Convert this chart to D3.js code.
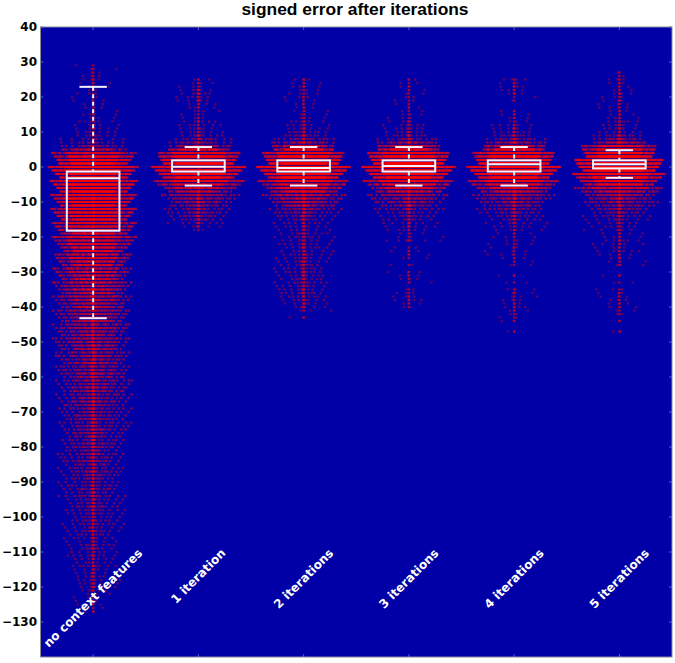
<!DOCTYPE html>
<html><head><meta charset="utf-8">
<script src="https://cdn.jsdelivr.net/npm/d3@7"></script>
<style>html,body{margin:0;background:#fff}svg{display:block}</style></head>
<body><div id="c"></div>
<script>
const categories = ["no context features","1 iteration","2 iterations","3 iterations","4 iterations","5 iterations"];
const yTicks = d3.range(40,-131,-10);
const titleText = "signed error after iterations";

// first (highest) integer error level of each series
const topLevels = [29,25,25,25,25,27];

// dots seen per integer error level, top to bottom
const counts0 = [1,2,2,3,4,3,3,2,3,3,3,3,3,2,4,4,5,5,6,6,7,8,10,14,24,
 34,42,48,52,54,56,54,50,50,50,48,46,44,46,44,42,42,40,40,38,38,36,36,
 32,34,30,32,30,30,28,30,28,28,26,28,26,26,26,24,26,24,24,24,22,24,22,22,22,
 22,20,22,20,20,22,20,20,20,18,20,18,20,18,18,20,18,18,16,18,18,16,16,18,16,16,14,16,16,14,14,16,14,14,12,14,14,
 12,14,12,14,12,12,14,12,12,10,12,12,10,12,10,10,12,10,10,8,10,10,8,10,8,8,6,8,8,6,8,7,6,8,6,6,7,5,6,6,5,4,3,3,3,2,2];
const counts1 = [3,4,3,5,6,5,5,4,4,3,3,4,5,6,6,7, 9,11,14,20,
 30,42,50,56,60,62,60,56,50,42,34, 28,24,22,20,18,16,14,14,12,10,8,5,2];
const counts2 = [3,3,4,3,4,4,3,3,3,3,3,4,5,6,7,8, 10,13,18,26,
 36,46,54,60,64,66,62,58,52,44,36, 34,30,26,24,22,20,16,14,12,10,8,8,7,
 8,8,7,8,8,7,8,8,9,8,8,9,8,8,9,8,8,9,8,7,6,5,3,0,2];
const counts3 = [2,2,2,2,2,2,2,2,2,2,3,3,4,5,6,7, 9,12,18,26,
 36,46,54,60,64,66,62,58,52,44,36, 30,26,22,20,18,16,14,10,9,8,7,6,5,
 3,3,6,0,2,3,2,2,0,2,0,3,3,3,2,0,2,3,4,4,3,2];
const counts4 = [4,3,4,4,4,1,1,0,0,2,3,3,3,5,6,7, 9,12,18,26,
 36,46,54,60,64,66,62,58,52,44,36, 30,26,22,20,18,16,14,12,10,8,7,6,5,
 3,4,3,4,3,3,4,3,2,2,0,0,2,0,2,0,3,3,3,3,3,4,3,2,2,2,0,0,2];
const counts5 = [1,1,3,3,2,3,4,3,3,3,4,3,3,4,5,5,6,7, 10,13,20,30,
 40,50,58,64,66,66,62,58,52,44,36, 30,26,22,20,18,16,14,12,10,8,7,6,5,
 4,4,5,5,4,5,4,4,3,3,0,0,2,0,2,0,3,3,3,3,3,3,2,2,0,1,0,0,2];
const allCounts = [counts0,counts1,counts2,counts3,counts4,counts5];

// horizontal spread read at some levels: half width in x units
const spreadLevels = [[30,10,5,0,-10,-60,-100,-125],[27,10,5,0,-5,-12,-18,-50],[27,10,5,0,-5,-12,-18,-50],[27,10,5,0,-5,-12,-18,-50],[27,10,5,0,-5,-12,-18,-50],[27,10,5,0,-5,-12,-18,-50]];
const spreadWidths = [[.2,.26,.36,.38,.36,.34,.3,.2],[.2,.25,.34,.4,.38,.3,.26,.2],[.2,.25,.34,.4,.38,.32,.3,.24],[.18,.24,.34,.4,.38,.32,.3,.16],[.16,.24,.34,.4,.38,.32,.3,.14],[.16,.24,.34,.4,.38,.32,.3,.16]];

// box statistics
const whiskerHigh = [22.9,5.7,5.7,5.7,5.7,4.8];
const quartile3   = [-1.3,1.9,1.9,1.9,1.9,1.9];
const medians     = [-3.2,0.1,-0.3,0.3,0.8,0.8];
const quartile1   = [-18.2,-1.3,-1.3,-1.3,-1.3,-0.4];
const whiskerLow  = [-43.2,-5.3,-5.3,-5.3,-5.3,-3.1];

const W=675,H=663;
const x = d3.scaleLinear().domain([0.5,6.5]).range([40.5,672]);
const y = d3.scaleLinear().domain([40,-140]).range([27,657]);
const svg = d3.select("#c").append("svg").attr("width",W).attr("height",H);

svg.append("rect").attr("x",x(0.5)).attr("y",y(40)).attr("width",x(6.5)-x(0.5)).attr("height",y(-140)-y(40))
  .attr("fill","#0000a6");

// dots: each estimated row count is laid out across its row
const dots=[];
allCounts.forEach((cs,s)=>{
  const spreadAt=d3.scaleLinear().domain(spreadLevels[s]).range(spreadWidths[s]);
  cs.forEach((c,i)=>{
    if(!c) return;
    const level=topLevels[s]-i;
    const w=spreadAt(level)*(.82+.34*((i*0.7548)%1));   // rows do not share one clean outline
    const dense=Math.min(1,c/30);          // full rows have a flat core and thin fringes
    const op=.32+.26*dense;
    dots.push({s,level,o:0,op},{s,level,o:0,op});
    const n=Math.round(c+c*c/40);
    for(let k=0;k<n;k++){
      const a=(k*0.6180339+ i*0.3819+ s*0.27)%1;
      const u=2*a-1, m=Math.abs(u);
      const flat = m<.8 ? m/.8*.64 : .64+(m-.8)/.2*.36;
      const peaked = Math.pow(m,2);
      dots.push({s,level,o:Math.sign(u)*(dense*flat+(1-dense)*peaked)*w,op});
    }
  });
});
svg.append("g").selectAll("rect").data(dots).join("rect")
  .attr("x",d=>x(d.s+1+d.o)-1.25)
  .attr("y",d=>y(d.level)-1.1)
  .attr("width",2.5).attr("height",2.2)
  .attr("fill","#ff0000").attr("opacity",d=>d.op);

// boxes
const boxColor="#f2f2ff";
const boxes=svg.append("g").selectAll("g").data(categories).join("g");
boxes.append("line").attr("x1",(d,i)=>x(i+1)).attr("x2",(d,i)=>x(i+1))
  .attr("y1",(d,i)=>y(whiskerHigh[i])).attr("y2",(d,i)=>y(quartile3[i]))
  .attr("stroke",boxColor).attr("stroke-width",2).attr("stroke-dasharray","4,3.5");
boxes.append("line").attr("x1",(d,i)=>x(i+1)).attr("x2",(d,i)=>x(i+1))
  .attr("y1",(d,i)=>y(quartile1[i])).attr("y2",(d,i)=>y(whiskerLow[i]))
  .attr("stroke",boxColor).attr("stroke-width",2).attr("stroke-dasharray","4,3.5");
[whiskerHigh,whiskerLow].forEach(arr=>{
  boxes.append("line").attr("x1",(d,i)=>x(i+1-.13)).attr("x2",(d,i)=>x(i+1+.13))
    .attr("y1",(d,i)=>y(arr[i])).attr("y2",(d,i)=>y(arr[i]))
    .attr("stroke",boxColor).attr("stroke-width",2);
});
boxes.append("rect").attr("x",(d,i)=>x(i+1-.25)).attr("width",x(1.5)-x(1))
  .attr("y",(d,i)=>y(quartile3[i])).attr("height",(d,i)=>y(quartile1[i])-y(quartile3[i]))
  .attr("fill","none").attr("stroke",boxColor).attr("stroke-width",2);
boxes.append("line").attr("x1",(d,i)=>x(i+1-.25)).attr("x2",(d,i)=>x(i+1+.25))
  .attr("y1",(d,i)=>y(medians[i])).attr("y2",(d,i)=>y(medians[i]))
  .attr("stroke",boxColor).attr("stroke-width",2);

// axes
const yAxis=d3.axisLeft(y).tickValues(yTicks).tickSize(0).tickPadding(3.5).tickFormat(d=>d3.format("d")(d).replace("-","\u2212"));
const gy=svg.append("g").attr("transform",`translate(${x(0.5)},0)`).call(yAxis);
gy.select(".domain").remove();
gy.selectAll("text").attr("font-family","'DejaVu Sans'").attr("font-weight","bold").attr("font-size",12).attr("fill","#000");

// small inward ticks in a pale blue
const tickCol="#5a5ac8";
svg.append("g").selectAll("line").data(yTicks).join("line").attr("x1",x(0.5)).attr("x2",x(0.5)+3)
  .attr("y1",d=>y(d)).attr("y2",d=>y(d)).attr("stroke",tickCol);
svg.append("g").selectAll("line").data(yTicks).join("line").attr("x1",x(6.5)).attr("x2",x(6.5)-3)
  .attr("y1",d=>y(d)).attr("y2",d=>y(d)).attr("stroke",tickCol);
svg.append("g").selectAll("line").data(categories).join("line").attr("x1",(d,i)=>x(i+1)).attr("x2",(d,i)=>x(i+1))
  .attr("y1",y(-140)).attr("y2",y(-140)-3).attr("stroke",tickCol);
svg.append("g").selectAll("line").data(categories).join("line").attr("x1",(d,i)=>x(i+1)).attr("x2",(d,i)=>x(i+1))
  .attr("y1",y(40)).attr("y2",y(40)+3).attr("stroke",tickCol);

svg.append("rect").attr("x",x(0.5)).attr("y",y(40)).attr("width",x(6.5)-x(0.5)).attr("height",y(-140)-y(40))
  .attr("fill","none").attr("stroke","#8a8a9a").attr("stroke-width",1);

// rotated category labels, centred under each box and top-aligned
const labelTop=547;
svg.append("g").selectAll("text").data(categories).join("text")
  .attr("text-anchor","middle").attr("dominant-baseline","central")
  .attr("font-family","'DejaVu Sans'").attr("font-weight","bold").attr("font-size",12).attr("fill","#fff")
  .text(d=>d)
  .attr("transform",function(d,i){
    const h=this.getComputedTextLength()*Math.SQRT1_2+8;
    return `translate(${x(i+1)},${labelTop+h/2}) rotate(-45)`;
  });

svg.append("text").attr("x",355).attr("y",15).attr("text-anchor","middle")
  .attr("font-family","'Liberation Sans'").attr("font-weight","bold").attr("font-size",17.4).attr("fill","#000")
  .text(titleText);
</script></body></html>
